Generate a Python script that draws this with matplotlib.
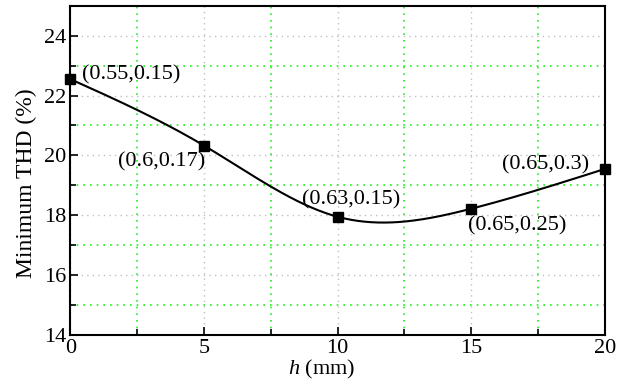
import numpy as np
import matplotlib

matplotlib.use("Agg")
import matplotlib.pyplot as plt
from matplotlib.ticker import MultipleLocator

plt.rcParams["font.family"] = ["Liberation Serif", "DejaVu Serif"]
plt.rcParams["mathtext.fontset"] = "custom"
plt.rcParams["mathtext.it"] = "Liberation Serif:italic"

h = [0, 5, 10, 15, 20]
thd = [22.55, 20.33, 17.95, 18.22, 19.55]
labels = ["(0.55,0.15)", "(0.6,0.17)", "(0.63,0.15)", "(0.65,0.25)", "(0.65,0.3)"]
label_pos = [(0.45, 22.69), (1.8, 19.78), (8.67, 18.51), (14.88, 17.64), (16.15, 19.68)]


def natural_spline(x, y, xs):
    x = np.asarray(x, float)
    y = np.asarray(y, float)
    n = len(x)
    dx = np.diff(x)
    A = np.zeros((n, n))
    b = np.zeros(n)
    A[0, 0] = A[-1, -1] = 1
    for i in range(1, n - 1):
        A[i, i - 1] = dx[i - 1]
        A[i, i] = 2 * (dx[i - 1] + dx[i])
        A[i, i + 1] = dx[i]
        b[i] = 6 * ((y[i + 1] - y[i]) / dx[i] - (y[i] - y[i - 1]) / dx[i - 1])
    m = np.linalg.solve(A, b)
    idx = np.clip(np.searchsorted(x, xs) - 1, 0, n - 2)
    x0, x1 = x[idx], x[idx + 1]
    hh = x1 - x0
    t0, t1 = x1 - xs, xs - x0
    return (m[idx] * t0**3 / (6 * hh) + m[idx + 1] * t1**3 / (6 * hh)
            + (y[idx] / hh - m[idx] * hh / 6) * t0
            + (y[idx + 1] / hh - m[idx + 1] * hh / 6) * t1)


fig = plt.figure(figsize=(6.27, 3.82), dpi=100)
ax = fig.add_axes([0.112, 0.123, 0.853, 0.862])

xs = np.linspace(h[0], h[-1], 300)
ax.plot(xs, natural_spline(h, thd, xs), color="black", lw=1.5, zorder=3)
ax.plot(h, thd, "s", color="black", ms=6.5, zorder=4, clip_on=False)

for txt, (tx, ty) in zip(labels, label_pos):
    ax.text(tx, ty, txt, fontsize=16, ha="left", va="center", zorder=5)

ax.set_xlim(0, 20)
ax.set_ylim(14, 25)
ax.xaxis.set_major_locator(MultipleLocator(5))
ax.xaxis.set_minor_locator(MultipleLocator(2.5))
ax.yaxis.set_major_locator(MultipleLocator(2))
ax.yaxis.set_minor_locator(MultipleLocator(1))
ax.grid(which="major", color="#c0c0c0", ls=(0, (1, 3)), lw=1)
ax.grid(which="minor", color="#22ee22", ls=(0, (1, 3)), lw=1.2)
ax.tick_params(which="both", direction="in", top=False, right=False,
               labelsize=16, width=1.2)
ax.tick_params(which="major", length=6, pad=3)
ax.tick_params(which="minor", length=4)
for s in ax.spines.values():
    s.set_linewidth(1.5)

ax.set_xlabel("$h$ (mm)", fontsize=16, labelpad=0)
ax.xaxis.set_label_coords(0.47, -0.07)
ax.set_ylabel("Minimum THD (%)", fontsize=17, labelpad=2)
ax.yaxis.set_label_coords(-0.062, 0.46)

fig.savefig("out.png", dpi=100)
